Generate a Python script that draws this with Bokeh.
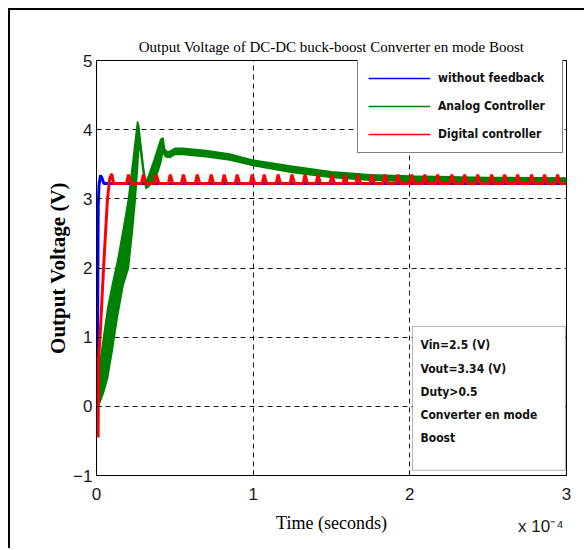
from bokeh.plotting import figure
from bokeh.models import Legend, LegendItem, Label, BoxAnnotation, Range1d, FixedTicker, ColumnDataSource, Title
from bokeh.embed import file_html
from bokeh.resources import INLINE

# ---------------- data (time in units of 1e-4 s, voltage in V) ----------------
title_text = "Output Voltage of DC-DC buck-boost Converter en mode Boost"
x_label = "Time (seconds)"
y_label = "Output Voltage (V)"
x_multiplier = "x 10\u207b\u2074"
x_ticks = [0, 1, 2, 3]
y_ticks = [-1, 0, 1, 2, 3, 4, 5]
series_names = ["without feedback", "Analog Controller", "Digital controller"]
info_lines = ["Vin=2.5 (V)", "Vout=3.34 (V)", "Duty>0.5", "Converter en mode", "Boost"]

# without feedback (blue)
blue_t = [0.0, 0.004, 0.008, 0.011, 0.016, 0.026, 0.035, 0.047, 3.0]
blue_v = [0.0, 0.4, 1.5, 2.9, 3.2, 3.34, 3.30, 3.22, 3.22]

# analog controller (green): lower / upper envelope of the rippled trace
green_t = [0.0, 0.005, 0.02, 0.045, 0.07, 0.10, 0.134, 0.17, 0.204, 0.23, 0.248,
           0.262, 0.27, 0.28, 0.30, 0.315, 0.33, 0.35, 0.37, 0.39, 0.41, 0.425,
           0.435, 0.45, 0.47, 0.50, 0.55, 0.70, 0.85, 1.00, 1.25, 1.50, 1.75,
           2.00, 2.50, 3.00]
green_lo = [0.0, 0.0, 0.05, 0.2, 0.4, 0.8, 1.3, 1.75, 2.0, 2.55, 3.0,
            3.45, 3.75, 3.7, 3.35, 3.15, 3.17, 3.22, 3.28, 3.38, 3.52, 3.7,
            3.62, 3.60, 3.60, 3.64, 3.64, 3.61, 3.56, 3.48, 3.38, 3.31, 3.27,
            3.25, 3.24, 3.24]
green_hi = [0.0, 0.35, 0.6, 1.0, 1.4, 1.75, 2.1, 2.55, 3.0, 3.5, 3.85,
            4.12, 4.05, 3.85, 3.45, 3.25, 3.32, 3.45, 3.58, 3.72, 3.86, 3.88,
            3.72, 3.68, 3.69, 3.73, 3.73, 3.70, 3.65, 3.56, 3.47, 3.39, 3.35,
            3.33, 3.31, 3.30]

# digital controller (red): start-up transient, then periodic spikes
red_t = [0.0, 0.005, 0.010, 0.014, 0.025, 0.045, 0.070, 0.085, 0.097, 0.110]
red_v = [0.0, 0.5, -0.45, 0.7, 1.1, 2.0, 3.0, 3.3, 3.36, 3.22]
red_spike_t = [0.204, 0.299, 0.382, 0.471, 0.554, 0.643, 0.732, 0.815, 0.898,
               0.994, 1.070, 1.159, 1.248, 1.331, 1.414, 1.503, 1.586, 1.669,
               1.758, 1.841, 1.924, 2.013, 2.096, 2.178, 2.268, 2.350, 2.433,
               2.522, 2.605, 2.688, 2.777, 2.860, 2.943]
red_base = 3.22
red_peak = 3.35

# ---------------- build red polyline from the listed spikes ----------------
rx = list(red_t)
ry = list(red_v)
for ts in red_spike_t:
    rx += [ts - 0.012, ts, ts + 0.016]
    ry += [red_base, red_peak, red_base]
rx.append(3.0)
ry.append(red_base)

BLUE = "#0000FF"
GREEN = "#008000"
RED = "#FF0000"

p = figure(width=576, height=540, output_backend="svg", toolbar_location=None,
           x_range=Range1d(0, 3), y_range=Range1d(-1, 5),
           min_border_left=86, min_border_right=20, min_border_top=50, min_border_bottom=75,
           styles={"margin-left": "10px", "margin-top": "10px",
                   "box-shadow": "-2px -2px 0 0 black"})

p.background_fill_color = "white"
p.border_fill_color = "white"
p.outline_line_color = "black"
p.outline_line_width = 1

# title
p.title.text = title_text
p.title.align = "center"
p.title.text_font = "Liberation Serif"
p.title.text_font_style = "normal"
p.title.text_font_size = "15px"
p.title.text_color = "black"
p.title.standoff = 12

# axes
for ax in (p.xaxis[0], p.yaxis[0]):
    ax.axis_line_color = "black"
    ax.major_tick_line_color = "black"
    ax.major_tick_in = 5
    ax.major_tick_out = 0
    ax.minor_tick_line_color = None
    ax.major_label_text_font = "Liberation Sans"
    ax.major_label_text_font_size = "17px"
    ax.major_label_text_color = "#1a1a1a"
    ax.axis_label_text_font = "Liberation Serif"
    ax.axis_label_text_color = "black"

p.xaxis.ticker = FixedTicker(ticks=x_ticks)
p.yaxis.ticker = FixedTicker(ticks=y_ticks)
p.xaxis.major_label_standoff = 12
p.yaxis.major_label_standoff = 4
p.xaxis.axis_label = x_label
p.xaxis.axis_label_text_font_size = "18px"
p.xaxis.axis_label_text_font_style = "normal"
p.xaxis.axis_label_standoff = 10
p.yaxis.axis_label = y_label
p.yaxis.axis_label_text_font_size = "21px"
p.yaxis.axis_label_text_font_style = "bold"
p.yaxis.axis_label_standoff = 0

# multiplier under the right end of the x axis
p.add_layout(Title(text=x_multiplier, align="right", vertical_align="top",
                   text_font="Liberation Sans",
                   text_font_size="17px", text_font_style="normal",
                   text_color="#1a1a1a", standoff=-38, offset=3), "below")

# grid
for g in (p.xgrid[0], p.ygrid[0]):
    g.grid_line_color = "black"
    g.grid_line_dash = "5 4"
    g.grid_line_width = 1
    g.grid_line_alpha = 0.9

# curves
p.line(blue_t, blue_v, line_color=BLUE, line_width=3)
p.varea(x=green_t, y1=green_lo, y2=green_hi, fill_color=GREEN)
p.line(green_t, green_lo, line_color=GREEN, line_width=1.5)
p.line(green_t, green_hi, line_color=GREEN, line_width=1.5)
p.line(rx, ry, line_color=RED, line_width=3)

# legend proxies (outside the visible range)
def proxy(color):
    src = ColumnDataSource(dict(x=[-10.0, -9.0], y=[-10.0, -10.0]))
    return p.line("x", "y", source=src, line_color=color, line_width=1.5)

lb, lg, lr = proxy(BLUE), proxy(GREEN), proxy(RED)

legend_font = "'Liberation Sans Narrow', 'DejaVu Sans Condensed', 'Roboto', sans-serif"
legend = Legend(items=[LegendItem(label=series_names[0], renderers=[lb]),
                       LegendItem(label=series_names[1], renderers=[lg]),
                       LegendItem(label=series_names[2], renderers=[lr])],
                location=(261, 322),
                glyph_width=62, glyph_height=16, label_height=16,
                label_width=114, label_standoff=8, spacing=12, padding=10,
                label_text_font=legend_font, label_text_font_style="bold",
                label_text_font_size="12px", label_text_color="#111111",
                border_line_color="black", border_line_width=1,
                background_fill_color="white", background_fill_alpha=1.0)
p.add_layout(legend, "center")

# info box
box_left, box_right, box_top, box_bottom = 2.017, 2.993, 1.156, -0.925
p.add_layout(BoxAnnotation(left=box_left, right=box_right, top=box_top, bottom=box_bottom,
                           fill_color="white", fill_alpha=1.0,
                           line_color="black", line_width=1))
for i, txt in enumerate(info_lines):
    p.add_layout(Label(x=box_left, y=box_top, x_offset=8, y_offset=-(19 + i * 23.2),
                       text=txt, text_font=legend_font, text_font_style="bold",
                       text_font_size="12px", text_color="#111111",
                       text_baseline="middle", text_align="left"))

open("out.html", "w").write(file_html(p, INLINE))
